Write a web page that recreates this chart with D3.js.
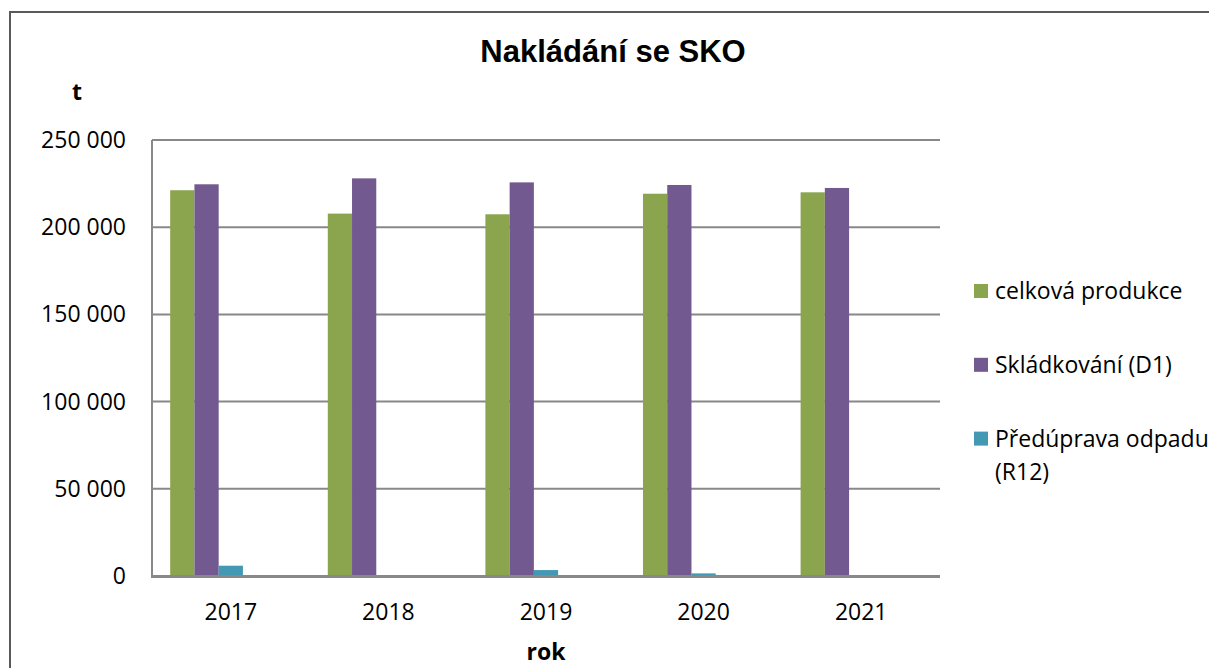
<!DOCTYPE html>
<html>
<head>
<meta charset="utf-8">
<script src="https://cdn.jsdelivr.net/npm/d3@7"></script>
<style>
  html, body { margin: 0; padding: 0; background: #fff; }
  svg text { font-family: "Open Sans", sans-serif; fill: #000; }
</style>
</head>
<body>
<svg id="chart"></svg>
<script>
// data
const years = ["2017", "2018", "2019", "2020", "2021"];
const seriesNames = ["celková produkce", "Skládkování (D1)", "Předúprava odpadu (R12)"];
const produkce = [221200, 207800, 207400, 219200, 220000];
const skladkovani = [224600, 228000, 225700, 224200, 222500];
const preduprava = [5900, 0, 3400, 1500, 0];
const yTicks = [0, 50000, 100000, 150000, 200000, 250000];
const colors = ["#8ba54e", "#72598f", "#4399b3"];

const series = [produkce, skladkovani, preduprava];

const W = 1209, H = 668;
const margin = {top: 140, right: 269, bottom: 92, left: 152};

const svg = d3.select("#chart").attr("width", W).attr("height", H);

// outer frame
svg.append("rect")
  .attr("x", 10).attr("y", 12)
  .attr("width", W + 20).attr("height", H + 20)
  .attr("fill", "none").attr("stroke", "#595959").attr("stroke-width", 2);

const x0 = d3.scaleBand()
  .domain(years)
  .range([margin.left, W - margin.right])
  .padding(0);

// Excel leaves room for 5 slots per category, only 3 are filled
const x1 = d3.scaleBand()
  .domain(d3.range(5))
  .range([0, x0.bandwidth()])
  .paddingInner(0)
  .paddingOuter(0.75);

const y = d3.scaleLinear()
  .domain([0, 250000])
  .range([H - margin.bottom, margin.top]);

const fmt = v => d3.format(",")(v).replace(/,/g, " ");

// gridlines
svg.append("g")
  .selectAll("line")
  .data(yTicks.filter(d => d > 0))
  .enter().append("line")
  .attr("x1", margin.left).attr("x2", W - margin.right)
  .attr("y1", d => y(d)).attr("y2", d => y(d))
  .attr("stroke", "#888").attr("stroke-width", 2);

// bars
series.forEach((vals, si) => {
  svg.append("g")
    .selectAll("rect")
    .data(vals)
    .enter().append("rect")
    .attr("x", (d, i) => x0(years[i]) + x1(si))
    .attr("width", x1.bandwidth())
    .attr("y", d => y(d))
    .attr("height", d => y(0) - y(d))
    .attr("fill", colors[si]);
});

// axes lines
svg.append("line")
  .attr("x1", margin.left).attr("x2", margin.left)
  .attr("y1", y(250000)).attr("y2", y(0))
  .attr("stroke", "#888").attr("stroke-width", 2);
svg.append("line")
  .attr("x1", margin.left - 1).attr("x2", W - margin.right)
  .attr("y1", y(0) + 0.5).attr("y2", y(0) + 0.5)
  .attr("stroke", "#888").attr("stroke-width", 3);

// y tick labels
svg.append("g")
  .selectAll("text")
  .data(yTicks)
  .enter().append("text")
  .attr("x", margin.left - 26)
  .attr("y", d => y(d) + 8)
  .attr("text-anchor", "end")
  .style("font-size", "23px")
  .text(fmt);

// x tick labels
svg.append("g")
  .selectAll("text")
  .data(years)
  .enter().append("text")
  .attr("x", d => x0(d) + x0.bandwidth() / 2)
  .attr("y", 620)
  .attr("text-anchor", "middle")
  .style("font-size", "23px")
  .text(d => d);

// title & axis titles
svg.append("text")
  .attr("x", 613).attr("y", 62)
  .attr("text-anchor", "middle")
  .style("font-family", "'Liberation Sans', Arial, sans-serif")
  .style("font-weight", "bold")
  .style("font-size", "31px")
  .text("Nakládání se SKO");

svg.append("text")
  .attr("x", 77).attr("y", 100)
  .attr("text-anchor", "middle")
  .style("font-weight", "bold")
  .style("font-size", "23px")
  .text("t");

svg.append("text")
  .attr("x", (margin.left + W - margin.right) / 2).attr("y", 660)
  .attr("text-anchor", "middle")
  .style("font-weight", "bold")
  .style("font-size", "23px")
  .text("rok");

// legend
const legendLines = [["celková produkce"], ["Skládkování (D1)"], ["Předúprava odpadu", "(R12)"]];
const legend = svg.append("g");
legendLines.forEach((lines, i) => {
  const top = 284 + i * 73.8;
  legend.append("rect")
    .attr("x", 974).attr("y", top)
    .attr("width", 14).attr("height", 14)
    .attr("fill", colors[i]);
  lines.forEach((t, j) => {
    legend.append("text")
      .attr("x", 995).attr("y", top + 15 + j * 33.5)
      .style("font-size", "23px")
      .text(t);
  });
});
</script>
</body>
</html>
